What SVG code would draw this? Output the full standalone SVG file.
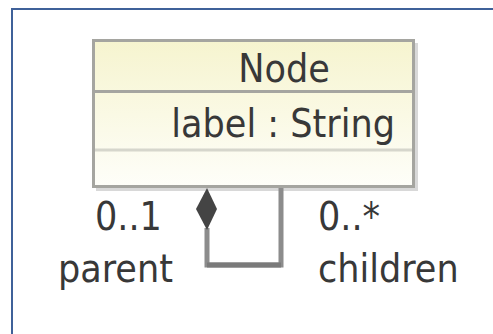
<svg xmlns="http://www.w3.org/2000/svg" width="493" height="334" viewBox="0 0 493 334">
  <style>
    .t { font-family: "DejaVu Sans Condensed", "Liberation Sans", Arial, sans-serif; font-size: 39px; fill: #383838; }
    .conn { fill: none; stroke: #8c8c8c; stroke-width: 5; }
  </style>
  <defs>
    <linearGradient id="fillg" x1="0" y1="0" x2="0" y2="1">
      <stop offset="0" stop-color="#f6f4cf"/>
      <stop offset="1" stop-color="#fefef9"/>
    </linearGradient>
  </defs>
  <rect x="0" y="0" width="493" height="334" fill="#ffffff"/>
  <rect id="frame" x="12" y="9" width="500" height="340" fill="none" stroke="#3f6199" stroke-width="2"/>
  <g id="Node">
    <rect x="96" y="43" width="322" height="148" fill="#d8d8d8"/>
    <rect x="93.5" y="40.5" width="320" height="146" fill="url(#fillg)" stroke="#a5a5a0" stroke-width="3"/>
    <line x1="93.5" y1="91.5" x2="413.5" y2="91.5" stroke="#a5a5a0" stroke-width="3"/>
    <line x1="95" y1="150" x2="412" y2="150" stroke="#d6d6cc" stroke-width="3"/>
    <text class="t" x="284" y="82" text-anchor="middle">Node</text>
    <text class="t" x="395" y="137" text-anchor="end">label : String</text>
  </g>
  <g id="connectors">
    <polyline class="conn" points="207,228 207,265 281,265 281,188"/>
    <line x1="207" y1="265" x2="281" y2="265" stroke="#7a7a7a" stroke-width="5"/>
    <polygon points="207,188 217,209 207,230 196,209" fill="#444444"/>
    <text class="t" x="95" y="230">0..1</text>
    <text class="t" x="58" y="282">parent</text>
    <text class="t" x="318" y="230">0..*</text>
    <text class="t" x="318" y="282">children</text>
  </g>
</svg>
